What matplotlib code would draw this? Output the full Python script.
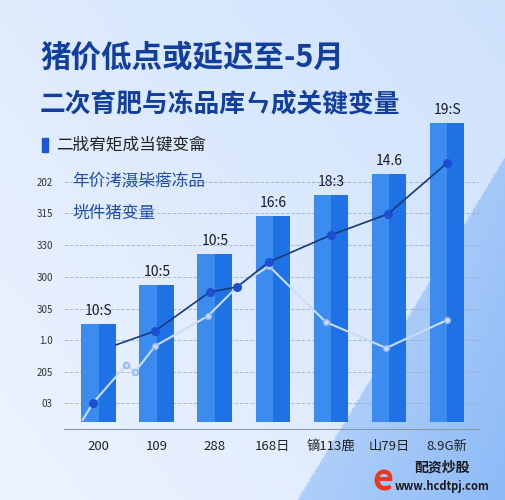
import matplotlib
matplotlib.use("Agg")
import matplotlib.pyplot as plt
import numpy as np

plt.rcParams['font.family'] = ['Noto Sans CJK SC', 'DejaVu Sans']

# --- data ---
categories = ["200", "109", "288", "168日", "镝113鹿", "山79日", "8.9G新"]
bar_values = [98, 137, 168, 206, 227, 248, 299]
bar_labels = ["10:S", "10:5", "10:5", "16:6", "18:3", "14.6", "19:S"]
dark_x = [0.29, 0.97, 1.91, 2.38, 2.93, 4.0, 4.98, 6.0]
dark_y = [77, 91, 130, 135, 160, 187, 208, 259]
light_x = [-0.28, -0.1, 0.47, 0.62, 0.97, 1.88, 2.38, 2.93, 3.91, 4.95, 6.0]
light_y = [2, 19, 57, 50, 76, 106, 135, 156, 100, 74, 102]
ytick_vals = [19, 50, 82, 113, 145, 177, 209, 240]
ytick_labels = ["03", "205", "1.0", "305", "300", "330", "315", "202"]

fig = plt.figure(figsize=(5.05, 5.0), dpi=100)

# background: pale gradient with a blue wedge in the lower right
bg = fig.add_axes([0, 0, 1, 1], zorder=-10)
yy, xx = np.mgrid[0:1:300j, 0:1:300j]
t = np.clip(0.06 + 0.1 * xx + 0.08 * yy, 0, 1)
wedge = xx > 0.59 + 0.6 * yy
t = np.where(wedge, 0.4 + 0.5 * (xx - 0.55) - 0.2 * yy, t)
c0 = np.array([0.97, 0.98, 1.0])
c1 = np.array([0.3, 0.58, 0.95])
img = c0[None, None, :] * (1 - t[..., None]) + c1[None, None, :] * t[..., None]
bg.imshow(img, extent=[0, 1, 0, 1], aspect="auto", origin="lower")
bg.axis("off")

ax = fig.add_axes([64 / 505, (500 - 429) / 500, 415 / 505, 309 / 500])
ax.set_facecolor("none")
x = np.arange(len(categories))
ax.bar(x, bar_values, width=0.6, color="#3c8bef", zorder=2)
ax.bar(x + 0.15, bar_values, width=0.3, color="#1f72e6", zorder=2)
for xi, v, lab in zip(x, bar_values, bar_labels):
    ax.text(xi, v + 6, lab, ha="center", va="bottom", fontsize=10, color="#1a1a2e", zorder=5)

ax.plot(light_x, light_y, color="#c9dcf7", lw=1.5, zorder=3)
ax.scatter(light_x[2:], light_y[2:], s=18, color="#c9dcf7", edgecolor="#8fb3ea", zorder=4)
ax.plot(dark_x, dark_y, color="#163a7a", lw=1.2, zorder=3)
ax.scatter(dark_x[1:], dark_y[1:], s=30, color="#1d4fd0", zorder=4)
ax.scatter([light_x[1]], [light_y[1]], s=30, color="#1d4fd0", zorder=4)

ax.set_xlim(-0.6, 6.55)
ax.set_ylim(-7, 302)
ax.set_yticks(ytick_vals)
ax.set_yticklabels(ytick_labels, fontsize=7, color="#333333")
ax.set_xticks(x)
ax.set_xticklabels(categories, fontsize=9.5, color="#222222")
ax.tick_params(length=0, pad=8)
ax.grid(axis="y", color="#9aa7b8", ls="--", lw=0.7, alpha=0.7, zorder=0)
for s in ["top", "right", "left"]:
    ax.spines[s].set_visible(False)
ax.spines["bottom"].set_color("#8a98aa")

ax.text(-0.45, 240, "年价洘滠枈瘩冻品", fontsize=12, color="#1f4fa8", va="center", zorder=6)
ax.text(-0.45, 209, "垙件猪变量", fontsize=12, color="#1f4fa8", va="center", zorder=6)

fig.text(40 / 505, 1 - 58 / 500, "猪价低点或延迟至-5月", fontsize=22, weight="bold",
         color="#123f9e", va="center")
fig.text(40 / 505, 1 - 105 / 500, "二次育肥与冻品库ㄣ成关键变量", fontsize=18.5, weight="bold",
         color="#123f9e", va="center")
fig.add_artist(plt.Rectangle((42 / 505, 1 - 152 / 500), 6 / 505, 14 / 500,
                             transform=fig.transFigure, color="#1d55d8"))
fig.text(56 / 505, 1 - 145 / 500, "二戕宥矩成当键变龠", fontsize=12, color="#222222", va="center")

fig.text(442 / 505, 1 - 472 / 500, "配资炒股", fontsize=10, weight="bold", color="#1a1a1a", ha="center")
fig.text(442 / 505, 1 - 490 / 500, "www.hcdtpj.com", fontsize=8, weight="bold", color="#1a1a1a", ha="center")
fig.text(383 / 505, 1 - 480 / 500, "e", fontsize=26, weight="bold", color="#e63a1e",
         ha="center", va="center")

fig.savefig("out.png", dpi=100)
